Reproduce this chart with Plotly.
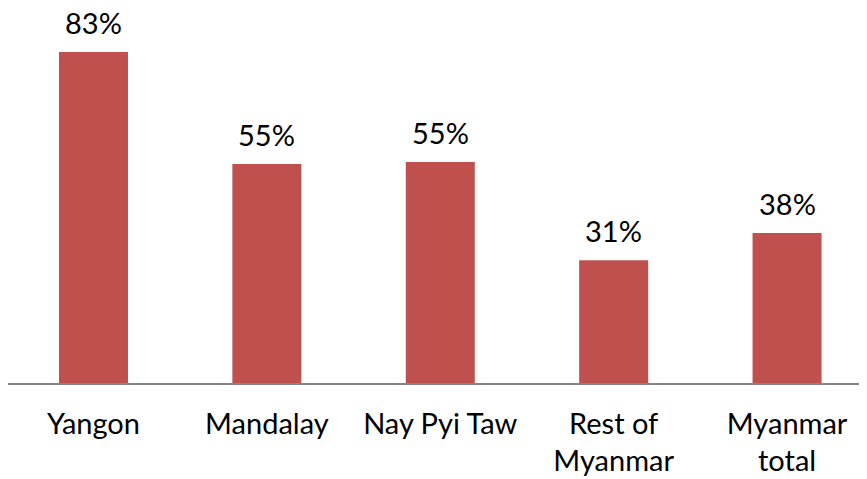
import plotly.graph_objects as go

categories = ["Yangon", "Mandalay", "Nay Pyi Taw", "Rest of<br>Myanmar", "Myanmar<br>total"]
values = [83, 54.9, 55.4, 30.8, 37.6]
labels = ["83%", "55%", "55%", "31%", "38%"]

FONT = "Lato, 'Open Sans', sans-serif"
BAR_COLOR = "#C0504D"

fig = go.Figure()
fig.add_trace(go.Bar(
    x=categories, y=values, width=0.398,
    marker=dict(color=BAR_COLOR, line=dict(width=0)),
    hoverinfo="skip",
))

for c, v, t in zip(categories, values, labels):
    fig.add_annotation(
        x=c, y=v, text=t, showarrow=False,
        yanchor="bottom", yshift=11, borderpad=0,
        font=dict(family=FONT, size=29, color="#000000"),
    )

fig.update_layout(
    width=859, height=471,
    margin=dict(l=0, r=0, t=0, b=96),
    paper_bgcolor="white", plot_bgcolor="white",
    showlegend=False,
    font=dict(family=FONT, size=29, color="#000000"),
    xaxis=dict(
        range=[-0.493, 4.461], showline=True, linecolor="#868686", linewidth=1.5,
        ticks="", showgrid=False, zeroline=False,
        tickfont=dict(family=FONT, size=29, color="#000000"),
        ticklabelstandoff=14,
    ),
    yaxis=dict(range=[0, 94.0], visible=False, showgrid=False, zeroline=False),
)

fig.write_html("out.html")
